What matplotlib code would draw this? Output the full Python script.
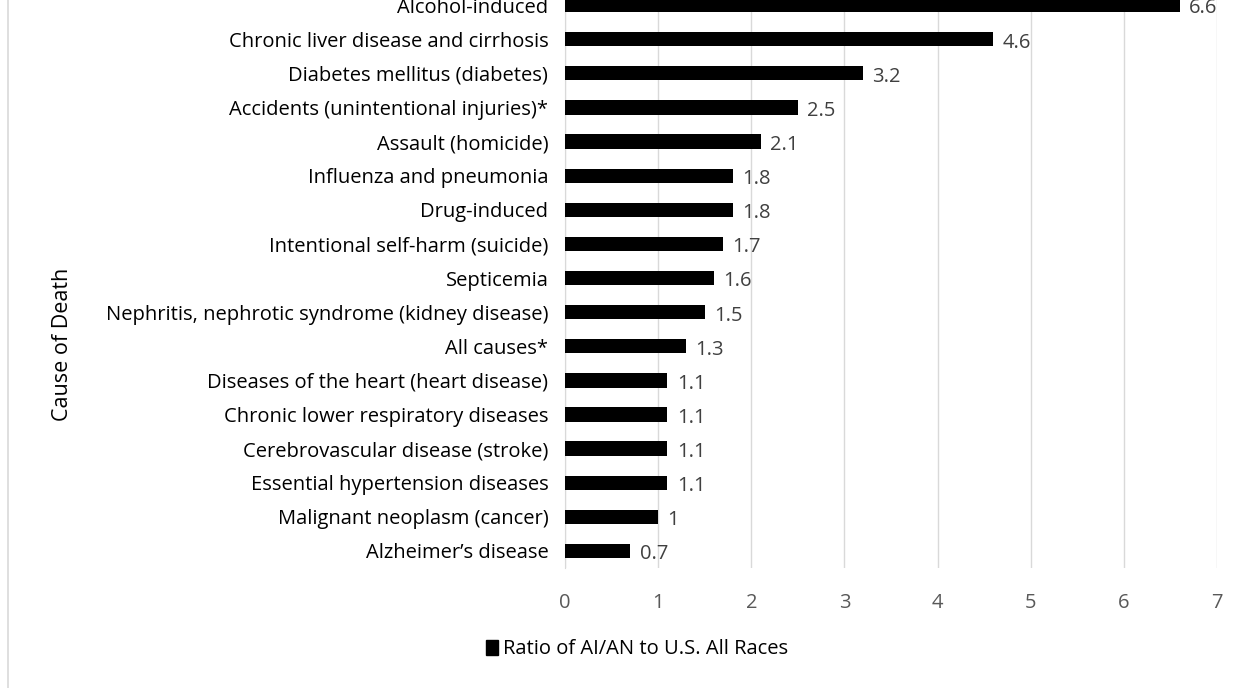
import numpy as np
import matplotlib.pyplot as plt
from matplotlib.lines import Line2D

plt.rcParams['font.family'] = ['Open Sans', 'DejaVu Sans']

# Datos (de arriba hacia abajo)
causes = [
    "Alcohol-induced",
    "Chronic liver disease and cirrhosis",
    "Diabetes mellitus (diabetes)",
    "Accidents (unintentional injuries)*",
    "Assault (homicide)",
    "Influenza and pneumonia",
    "Drug-induced",
    "Intentional self-harm (suicide)",
    "Septicemia",
    "Nephritis, nephrotic syndrome (kidney disease)",
    "All causes*",
    "Diseases of the heart (heart disease)",
    "Chronic lower respiratory diseases",
    "Cerebrovascular disease (stroke)",
    "Essential hypertension diseases",
    "Malignant neoplasm (cancer)",
    "Alzheimer\u2019s disease",
]
ratios = [6.6, 4.6, 3.2, 2.5, 2.1, 1.8, 1.8, 1.7, 1.6, 1.5, 1.3, 1.1, 1.1, 1.1, 1.1, 1, 0.7]
value_labels = ["6.6", "4.6", "3.2", "2.5", "2.1", "1.8", "1.8", "1.7", "1.6", "1.5",
                "1.3", "1.1", "1.1", "1.1", "1.1", "1", "0.7"]
xticks = [0, 1, 2, 3, 4, 5, 6, 7]

fs = 14.5

fig = plt.figure(figsize=(12.5, 6.88), dpi=100)
ax = fig.add_axes([0.452, 0.1744, 0.5216, 0.843])

y = np.arange(len(causes))
ax.barh(y, ratios, height=0.42, color='black', zorder=3)

for yi, v, lab in zip(y, ratios, value_labels):
    ax.text(v + 0.1, yi + 0.1, lab, va='center', ha='left', fontsize=fs,
            color='#404040', zorder=4)

ax.set_ylim(len(causes) - 0.5, -0.5)
ax.set_xlim(0, 7)
ax.set_xticks(xticks)
ax.set_xticklabels([str(t) for t in xticks], fontsize=fs, color='#595959')
ax.set_yticks(y)
ax.set_yticklabels(causes, fontsize=fs, color='black')
ax.tick_params(axis='both', length=0)
ax.tick_params(axis='x', pad=18)
ax.tick_params(axis='y', pad=12)

ax.grid(axis='x', color='#d9d9d9', linewidth=1, zorder=0)
for s in ['top', 'right', 'bottom']:
    ax.spines[s].set_visible(False)
ax.spines['left'].set_color('#d9d9d9')

fig.text(0.05, 0.5, "Cause of Death", rotation=90, va='center', ha='center',
         fontsize=15.5, color='black')

# borde del área del gráfico
fig.add_artist(Line2D([0.0065, 0.0065], [0, 1], color='#d9d9d9', linewidth=1.2))

handle = plt.Rectangle((0, 0), 1, 1, color='black')
fig.legend([handle], ["Ratio of AI/AN to U.S. All Races"], loc='center',
           bbox_to_anchor=(0.51, 0.056), frameon=False, fontsize=fs,
           handlelength=0.6, handleheight=0.75, handletextpad=0.25)

fig.savefig('out.png', dpi=100)
